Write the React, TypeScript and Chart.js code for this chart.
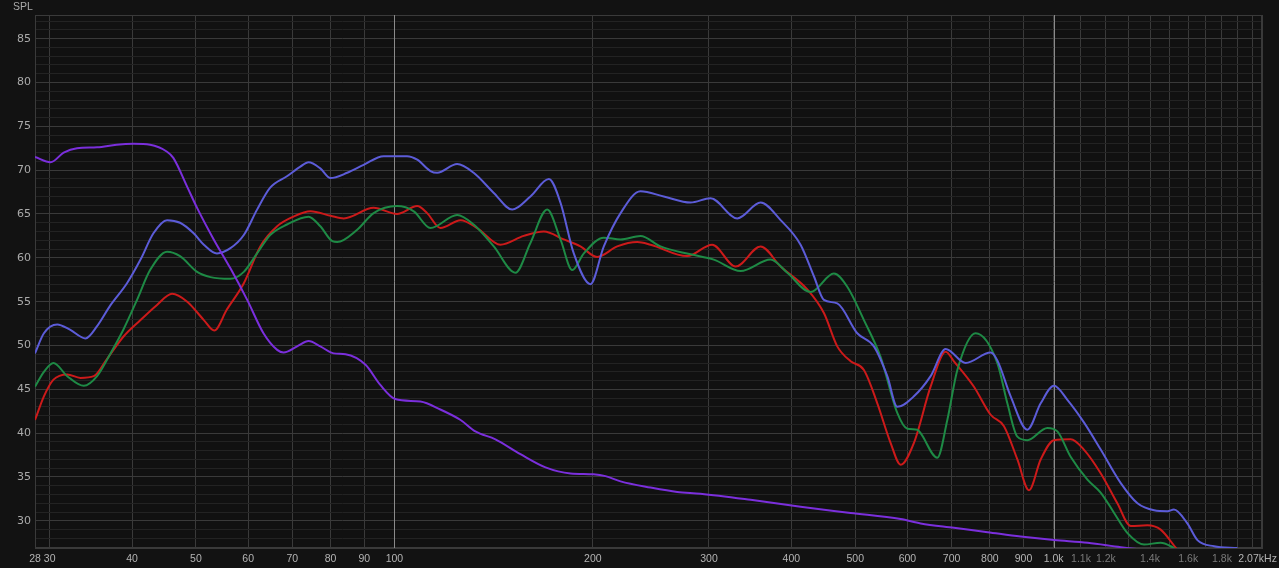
import React, { useEffect, useRef } from "react";
import { Chart, registerables } from "chart.js";

Chart.register(...registerables);

// ---- Data (frequency in Hz, SPL in dB) ----
const purpleFreq = [28.5, 30.1, 31.5, 33.0, 35.4, 37.9, 40.2, 42.6, 45.2, 46.2, 48.5, 50.2, 53.2, 56.4, 59.8, 63.3, 66.4, 67.9, 71.2, 74.1, 77.2, 80.9, 84.3, 90.4, 95.2, 100.3, 109.5, 117.4, 126.0, 132.7, 142.3, 155.3, 169.5, 185.0, 200.4, 209.0, 220.3, 244.6, 268.5, 291.2, 347.0, 413.1, 492.0, 585.9, 628.3, 705.8, 794.0, 891.1, 1001, 1126, 1264, 1453, 1900];
const purpleSpl = [71.5, 70.9, 72.0, 72.5, 72.6, 72.9, 73.0, 72.9, 72.1, 71.4, 68.1, 65.7, 62.1, 58.8, 55.2, 51.4, 49.5, 49.2, 49.9, 50.5, 49.9, 49.1, 49.0, 47.8, 45.5, 43.9, 43.6, 42.7, 41.5, 40.2, 39.3, 37.6, 36.1, 35.4, 35.3, 35.1, 34.5, 33.8, 33.3, 33.1, 32.4, 31.6, 30.9, 30.2, 29.7, 29.2, 28.7, 28.2, 27.8, 27.5, 27.0, 26.5, 25.8];

const blueFreq = [28.5, 29.4, 30.8, 32.2, 34.0, 35.4, 37.1, 39.3, 41.2, 43.1, 45.2, 47.3, 49.6, 51.4, 53.8, 56.4, 59.1, 61.9, 64.8, 68.7, 72.0, 74.1, 77.2, 80.0, 84.8, 89.8, 96.3, 104.5, 108.3, 113.4, 116.1, 124.5, 131.9, 141.5, 150.9, 160.8, 171.5, 178.6, 187.1, 198.3, 207.8, 220.3, 236.2, 256.2, 281.3, 301.6, 331.2, 359.3, 385.3, 413.1, 432.8, 448.2, 469.6, 503.6, 533.7, 559.3, 579.1, 613.8, 650.6, 685.7, 735.3, 802.4, 821.4, 860.5, 912.1, 955.6, 1001, 1049, 1112, 1179, 1264, 1340, 1420, 1488, 1522, 1595, 1652, 1751, 1900];
const blueSpl = [49.1, 51.4, 52.4, 51.8, 50.8, 52.2, 54.6, 57.1, 59.8, 62.8, 64.3, 64.0, 62.8, 61.5, 60.5, 61.1, 62.6, 65.5, 68.0, 69.3, 70.4, 70.9, 70.2, 69.1, 69.7, 70.6, 71.6, 71.6, 71.2, 69.9, 69.7, 70.7, 69.7, 67.4, 65.5, 67.0, 69.0, 66.3, 60.5, 57.0, 61.3, 65.1, 67.6, 67.0, 66.3, 66.8, 64.5, 66.3, 64.3, 61.5, 57.9, 55.2, 54.8, 51.4, 49.9, 46.5, 43.0, 44.2, 46.5, 49.6, 48.0, 49.2, 48.3, 44.2, 40.4, 43.4, 45.4, 43.8, 41.2, 38.1, 34.3, 32.0, 31.2, 31.1, 31.3, 29.7, 27.8, 27.1, 26.9];

const greenFreq = [28.5, 29.4, 30.4, 31.9, 33.8, 35.4, 37.1, 38.8, 40.7, 42.6, 45.2, 47.3, 50.2, 52.6, 56.4, 59.1, 61.9, 64.8, 68.7, 74.1, 77.2, 80.5, 81.9, 87.8, 93.0, 100.9, 107.0, 113.4, 124.5, 131.9, 141.5, 152.6, 160.8, 170.5, 178.6, 186.1, 193.8, 207.8, 220.3, 236.2, 253.3, 281.3, 305.1, 335.1, 372.0, 394.4, 427.8, 464.1, 486.3, 515.4, 546.3, 579.1, 599.8, 621.1, 628.3, 666.0, 689.7, 714.3, 761.4, 821.4, 850.6, 880.9, 912.1, 978.2, 1013, 1061, 1125, 1179, 1235, 1294, 1371, 1453, 1505, 1560];
const greenSpl = [45.3, 47.0, 48.0, 46.5, 45.4, 46.5, 49.1, 51.8, 55.2, 58.6, 60.7, 60.2, 58.4, 57.8, 57.6, 58.4, 60.5, 62.6, 63.8, 64.7, 63.6, 61.9, 61.8, 63.2, 65.1, 65.9, 65.3, 63.4, 64.9, 63.8, 61.3, 58.3, 61.7, 65.5, 62.1, 58.6, 60.5, 62.3, 62.1, 62.5, 61.3, 60.4, 59.8, 58.5, 59.8, 58.3, 56.1, 58.2, 56.7, 52.9, 48.7, 42.3, 40.5, 40.4, 40.0, 37.2, 41.5, 47.2, 51.4, 48.0, 43.4, 39.6, 39.2, 40.6, 40.2, 37.3, 34.7, 33.2, 30.9, 28.6, 27.3, 27.5, 27.1, 26.3];

const redFreq = [28.5, 29.4, 30.4, 31.9, 33.4, 35.0, 36.6, 38.8, 41.2, 43.6, 46.0, 48.5, 51.4, 53.3, 55.7, 59.1, 62.6, 66.4, 70.3, 74.6, 80.0, 83.8, 93.0, 100.9, 108.3, 112.1, 117.4, 126.0, 133.5, 144.8, 157.1, 168.5, 180.7, 191.5, 203.0, 217.7, 233.5, 244.6, 278.0, 303.4, 329.3, 359.3, 385.3, 422.9, 448.2, 469.6, 492.0, 515.4, 540.1, 565.7, 585.9, 613.8, 650.6, 685.7, 705.8, 756.9, 802.4, 840.6, 880.9, 917.3, 955.6, 1001, 1061, 1112, 1179, 1249, 1309, 1387, 1453, 1541, 1600];
const redSpl = [41.5, 44.2, 46.1, 46.7, 46.3, 46.5, 48.4, 51.0, 52.9, 54.6, 55.9, 55.0, 52.9, 51.7, 54.1, 57.1, 61.3, 63.6, 64.7, 65.3, 64.8, 64.5, 65.7, 65.0, 65.9, 65.1, 63.4, 64.3, 63.4, 61.5, 62.5, 63.0, 62.1, 61.3, 60.1, 61.3, 61.8, 61.5, 60.2, 61.5, 59.0, 61.3, 59.0, 56.4, 53.7, 49.9, 48.2, 47.2, 43.4, 38.9, 36.4, 38.9, 45.3, 49.3, 48.2, 45.3, 42.1, 40.8, 37.0, 33.5, 37.0, 39.2, 39.3, 38.1, 35.4, 32.0, 29.4, 29.5, 29.0, 26.7, 25.5];

// ---- Axis ticks ----
const xTickValues = [28.5, 30, 40, 50, 60, 70, 80, 90, 100, 200, 300, 400, 500, 600, 700, 800, 900, 1000, 1100, 1200, 1300, 1400, 1500, 1600, 1700, 1800, 1900, 2000, 2070];
const xTickLabels = ["28", "30", "40", "50", "60", "70", "80", "90", "100", "200", "300", "400", "500", "600", "700", "800", "900", "1.0k", "1.1k", "1.2k", "", "1.4k", "", "1.6k", "", "1.8k", "", "", "2.07kHz   "];
const xDimLabels = ["1.1k", "1.2k", "1.4k", "1.6k", "1.8k"];
const xBrightLines = [100, 1000];
const yLabelValues = [30, 35, 40, 45, 50, 55, 60, 65, 70, 75, 80, 85];
const yMin = 26.9;
const yMax = 87.7;
const xMin = 28.5;
const xMax = 2070;

const toPoints = (f: number[], v: number[]) => f.map((x, i) => ({ x, y: v[i] }));

const Y_FONT = { family: "'DejaVu Sans', sans-serif", size: 11 };
const X_FONT = { family: "'Liberation Sans', Arial, sans-serif", size: 10.5 };

export default function App() {
  const ref = useRef<HTMLCanvasElement | null>(null);

  useEffect(() => {
    const canvas = ref.current;
    if (!canvas) return;
    document.body.style.margin = "0";
    document.body.style.background = "#121212";

    const bgPlugin = {
      id: "bg",
      beforeDraw(chart: any) {
        const { ctx, chartArea } = chart;
        ctx.save();
        ctx.fillStyle = "#121212";
        ctx.fillRect(0, 0, chart.width, chart.height);
        ctx.fillStyle = "#111111";
        ctx.fillRect(chartArea.left, chartArea.top, chartArea.right - chartArea.left, chartArea.bottom - chartArea.top);
        ctx.restore();
      },
      beforeDatasetsDraw(chart: any) {
        const { ctx, chartArea } = chart;
        const xs = chart.scales.x;
        ctx.save();
        ctx.strokeStyle = "#3a3a3a";
        ctx.lineWidth = 1;
        ctx.strokeRect(chartArea.left + 0.5, chartArea.top + 0.5, chartArea.right - chartArea.left - 1, chartArea.bottom - chartArea.top - 1);
        ctx.strokeStyle = "#8a8a8a";
        xBrightLines.forEach((v) => {
          const px = Math.round(xs.getPixelForValue(v)) + 0.5;
          ctx.beginPath();
          ctx.moveTo(px, chartArea.top);
          ctx.lineTo(px, chartArea.bottom);
          ctx.stroke();
        });
        ctx.restore();
      },
      afterDraw(chart: any) {
        const { ctx } = chart;
        ctx.save();
        ctx.fillStyle = "#aaaaaa";
        ctx.font = "10.5px 'Liberation Sans', Arial, sans-serif";
        ctx.textBaseline = "top";
        ctx.textAlign = "left";
        ctx.fillText("SPL", 13, 2);
        ctx.restore();
      },
    };

    const chart = new Chart(canvas, {
      type: "line",
      data: {
        datasets: [
          { data: toPoints(purpleFreq, purpleSpl), borderColor: "#7b2fdc" },
          { data: toPoints(blueFreq, blueSpl), borderColor: "#5c5cd8" },
          { data: toPoints(greenFreq, greenSpl), borderColor: "#1e8a45" },
          { data: toPoints(redFreq, redSpl), borderColor: "#cc1a1a" },
        ],
      },
      options: {
        animation: false,
        responsive: false,
        devicePixelRatio: 1,
        layout: { padding: { top: 15, right: 17, left: 0, bottom: 0 } },
        plugins: { legend: { display: false }, tooltip: { enabled: false } },
        elements: {
          point: { radius: 0 },
          line: { borderWidth: 2, cubicInterpolationMode: "monotone", fill: false },
        },
        scales: {
          x: {
            type: "logarithmic",
            min: xMin,
            max: xMax,
            afterBuildTicks: (s: any) => {
              s.ticks = xTickValues.map((v) => ({ value: v }));
            },
            afterFit: (s: any) => {
              s.height = 20;
              s.paddingLeft = 0;
              s.paddingRight = 0;
            },
            ticks: {
              autoSkip: false,
              maxRotation: 0,
              minRotation: 0,
              padding: 5,
              font: X_FONT,
              color: (ctx: any) => {
                const i = xTickValues.indexOf(ctx.tick?.value);
                const l = i >= 0 ? xTickLabels[i] : "";
                return xDimLabels.includes(l) ? "#7a7a7a" : "#b4b4b4";
              },
              callback: (_v: any, i: number) => xTickLabels[i],
            },
            grid: {
              drawTicks: false,
              lineWidth: 1,
              color: "#3a3a3a",
            },
            border: { color: "#3a3a3a" },
          },
          y: {
            type: "linear",
            min: yMin,
            max: yMax,
            afterBuildTicks: (s: any) => {
              const t: any[] = [];
              for (let v = Math.ceil(yMin); v <= Math.floor(yMax); v++) t.push({ value: v });
              s.ticks = t;
            },
            afterFit: (s: any) => {
              s.width = 35;
              s.paddingTop = 0;
              s.paddingBottom = 0;
            },
            ticks: {
              autoSkip: false,
              padding: 4,
              font: Y_FONT,
              color: "#aaaaaa",
              callback: (v: any) => (yLabelValues.includes(v) ? String(v) : ""),
            },
            grid: {
              drawTicks: false,
              lineWidth: 1,
              color: (ctx: any) => (ctx.tick && ctx.tick.value % 5 === 0 ? "#3a3a3a" : "#232323"),
            },
            border: { color: "#3a3a3a" },
          },
        },
      },
      plugins: [bgPlugin],
    } as any);

    return () => chart.destroy();
  }, []);

  return (
    <div style={{ position: "absolute", left: 0, top: 0, width: 1279, height: 568, background: "#121212" }}>
      <canvas ref={ref} width={1279} height={568} style={{ display: "block" }} />
    </div>
  );
}
